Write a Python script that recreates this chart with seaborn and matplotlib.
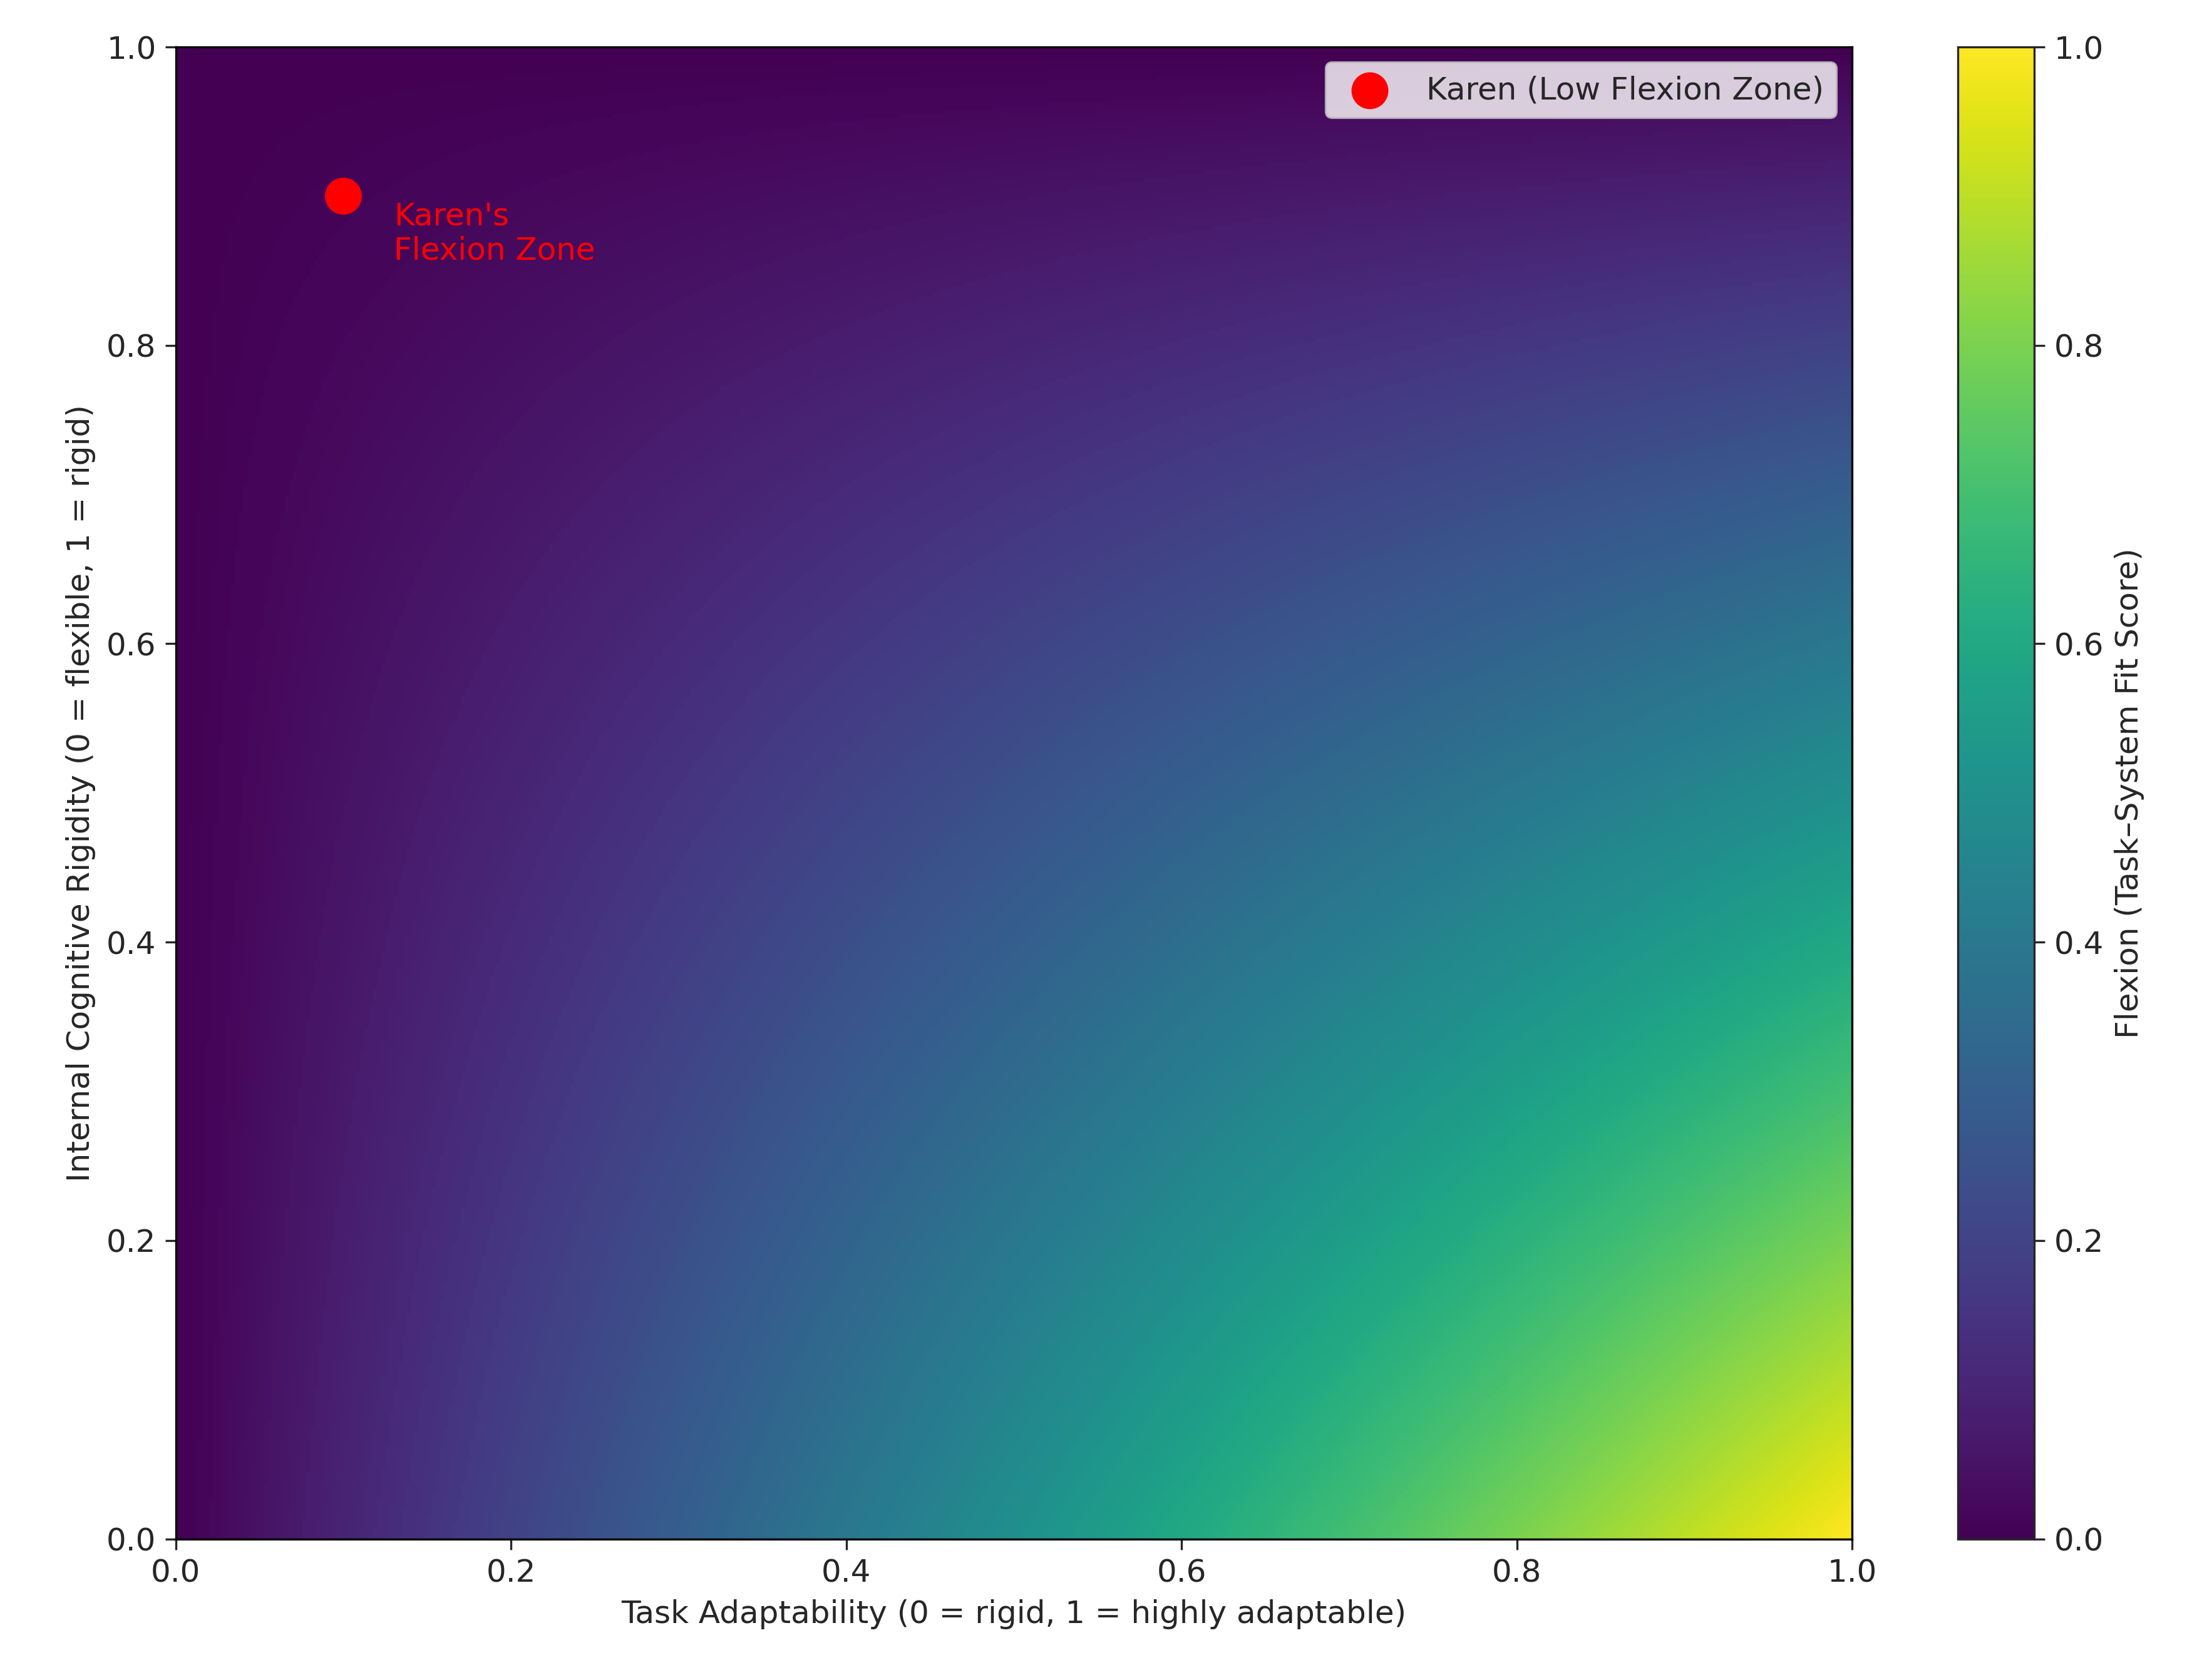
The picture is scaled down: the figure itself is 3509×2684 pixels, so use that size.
import numpy as np
import matplotlib
matplotlib.use("Agg")
import matplotlib.pyplot as plt
import seaborn as sns

sns.set_style("white")
plt.rcParams['font.family'] = ['DejaVu Sans']

# grid axes for the fit surface
task_adapt = np.linspace(0, 1, 400)
rigidity = np.linspace(0, 1, 400)
X, Y = np.meshgrid(task_adapt, rigidity)
flexion = X * (1 - Y)

karen_x = [0.1]
karen_y = [0.9]

fig = plt.figure(figsize=(11.697, 8.947), dpi=300)
ax = fig.add_axes([0.080, 0.084, 0.763, 0.888])
cax = fig.add_axes([0.891, 0.084, 0.035, 0.888])

im = ax.imshow(flexion, origin='lower', extent=[0, 1, 0, 1], cmap='viridis',
               vmin=0, vmax=1, aspect='auto')
sns.scatterplot(x=karen_x, y=karen_y, ax=ax, color='red', s=200, edgecolor='none',
                label='Karen (Low Flexion Zone)', zorder=5)
ax.text(karen_x[0] + 0.03, karen_y[0] - 0.025, "Karen's\nFlexion Zone", color='red',
        fontsize=12, va='center', ha='left')

ax.set_xlim(0, 1)
ax.set_ylim(0, 1)
ax.set_xticks(np.arange(0, 1.01, 0.2))
ax.set_yticks(np.arange(0, 1.01, 0.2))
ax.tick_params(labelsize=12, length=4, left=True, bottom=True)
ax.set_xlabel('Task Adaptability (0 = rigid, 1 = highly adaptable)', fontsize=12)
ax.set_ylabel('Internal Cognitive Rigidity (0 = flexible, 1 = rigid)', fontsize=12)
for s in ax.spines.values():
    s.set_visible(True)
    s.set_color('black')
ax.legend(loc='upper right', fontsize=12)

cb = fig.colorbar(im, cax=cax)
cb.set_label('Flexion (Task–System Fit Score)', fontsize=12)
cb.ax.tick_params(labelsize=12, length=4)

fig.savefig('out.png', dpi=300)
